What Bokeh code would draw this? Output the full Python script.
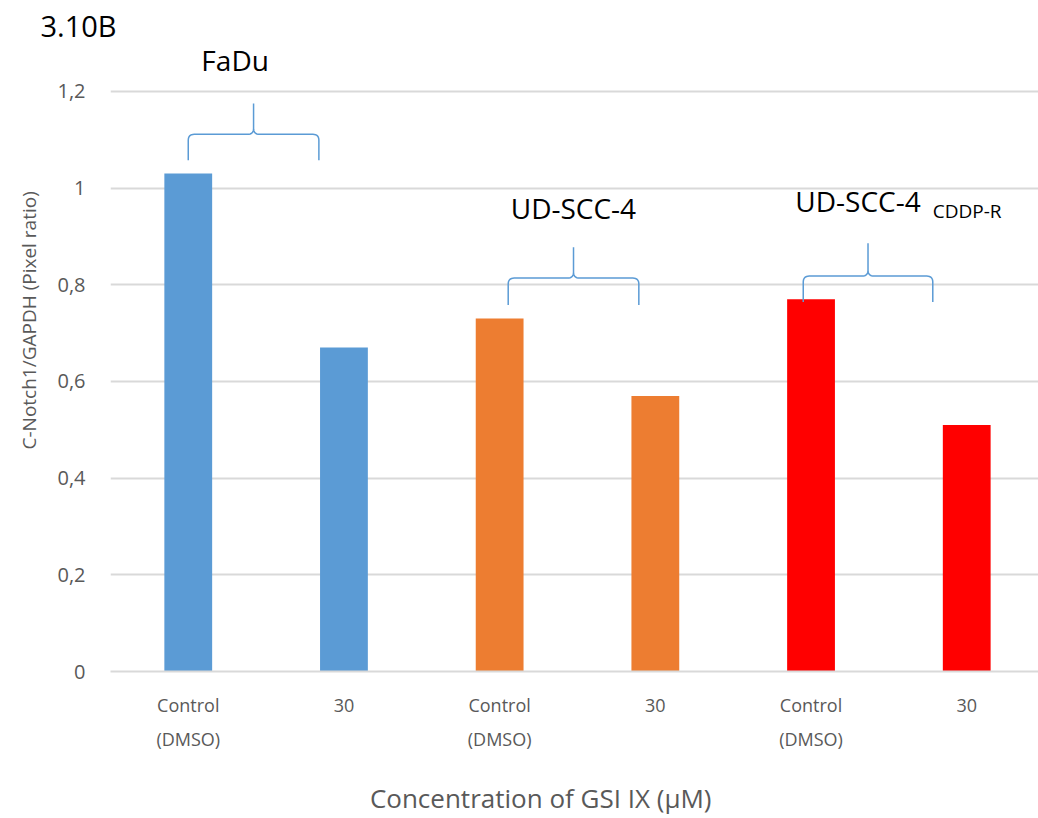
from bokeh.plotting import figure
from bokeh.models import (ColumnDataSource, Range1d, FixedTicker, CustomJSTickFormatter, Label, Title)
from bokeh.embed import file_html
from bokeh.resources import INLINE

# ---- data ----
conditions = ["Control\n(DMSO)", "30", "Control\n(DMSO)", "30", "Control\n(DMSO)", "30"]
cell_lines = ["FaDu", "FaDu", "UD-SCC-4", "UD-SCC-4", "UD-SCC-4 CDDP-R", "UD-SCC-4 CDDP-R"]
ratio = [1.03, 0.67, 0.73, 0.57, 0.77, 0.51]
bar_colors = ["#5B9BD5", "#5B9BD5", "#ED7D31", "#ED7D31", "#FF0000", "#FF0000"]
y_ticks = [0, 0.2, 0.4, 0.6, 0.8, 1.0, 1.2]

xpos = list(range(len(ratio)))
src = ColumnDataSource(dict(x=xpos, top=ratio, color=bar_colors, line=cell_lines))

GRAY = "#595959"
FONT = "Open Sans"

p = figure(width=1038, height=818, output_backend="svg", toolbar_location=None,
           x_range=Range1d(-0.4994, 5.461), y_range=Range1d(0, 1.2929),
           min_border_left=107, min_border_right=0, min_border_top=46, min_border_bottom=146)
p.outline_line_color = None
p.background_fill_color = "white"
p.border_fill_color = "white"

p.vbar(x="x", top="top", width=0.307, color="color", source=src, line_color=None)

# grid
p.xgrid.grid_line_color = None
p.ygrid.grid_line_color = "#D9D9D9"
p.ygrid.grid_line_width = 2

# y axis
p.yaxis.ticker = FixedTicker(ticks=y_ticks)
p.yaxis.formatter = CustomJSTickFormatter(code="return tick.toFixed(1).replace('.0','').replace('.', ',');")
p.yaxis.axis_line_color = None
p.yaxis.major_tick_line_color = None
p.yaxis.minor_tick_line_color = None
p.yaxis.major_tick_out = 0
p.yaxis.major_tick_in = 0
p.yaxis.major_label_standoff = 25
p.yaxis.major_label_text_font = FONT
p.yaxis.major_label_text_font_size = "20px"
p.yaxis.major_label_text_color = GRAY

# x axis
p.xaxis.ticker = FixedTicker(ticks=xpos)
p.xaxis.major_label_overrides = {i: c for i, c in zip(xpos, conditions)}
p.xaxis.axis_line_color = "#D9D9D9"
p.xaxis.axis_line_width = 2
p.xaxis.major_tick_line_color = None
p.xaxis.minor_tick_line_color = None
p.xaxis.major_tick_out = 0
p.xaxis.major_tick_in = 0
p.xaxis.major_label_standoff = 21
p.xaxis.major_label_text_font = FONT
p.xaxis.major_label_text_font_size = "18px"
p.xaxis.major_label_text_color = GRAY
p.xaxis.major_label_text_line_height = 1.43
p.xaxis.axis_label = "Concentration of GSI IX (µM)" + "\u00a0" * 10
p.xaxis.axis_label_standoff = 26
p.xaxis.axis_label_text_font = FONT
p.xaxis.axis_label_text_font_size = "26px"
p.xaxis.axis_label_text_font_style = "normal"
p.xaxis.axis_label_text_color = GRAY

# y title and panel label
p.add_layout(Title(text="C-Notch1/GAPDH (Pixel ratio)", align="left", offset=222, standoff=26,
                   text_font=FONT, text_font_size="19px", text_font_style="normal",
                   text_color=GRAY), "left")
p.add_layout(Title(text="3.10B", align="left", offset=-70, standoff=4,
                   text_font=FONT, text_font_size="29px", text_font_style="normal",
                   text_color="black"), "above")

# group labels
for gx, gy, txt in [(0.301, 1.264, "FaDu"), (2.474, 0.9594, "UD-SCC-4"), (4.302, 0.9728, "UD-SCC-4")]:
    p.add_layout(Label(x=gx, y=gy, text=txt, text_font=FONT, text_font_size="28px",
                       text_color="black", text_align="center", text_baseline="middle"))
p.add_layout(Label(x=4.782, y=0.9521, text="CDDP-R", text_font=FONT, text_font_size="19px",
                   text_color="black", text_align="left", text_baseline="middle"))

# braces
RX, RY = 0.0384, 0.0124

def qcurve(a, c, b, n=8):
    pts = []
    for i in range(n + 1):
        t = i / n
        pts.append(((1 - t) ** 2 * a[0] + 2 * (1 - t) * t * c[0] + t ** 2 * b[0],
                    (1 - t) ** 2 * a[1] + 2 * (1 - t) * t * c[1] + t ** 2 * b[1]))
    return pts

def brace(x0, x1, yb, ym, yt):
    xc = (x0 + x1) / 2
    pts = [(x0, yb)]
    pts += qcurve((x0, ym - RY), (x0, ym), (x0 + RX, ym))
    pts += qcurve((xc - RX, ym), (xc, ym), (xc, ym + RY))
    pts += [(xc, yt), (xc, ym + RY)]
    pts += qcurve((xc, ym + RY), (xc, ym), (xc + RX, ym))
    pts += qcurve((x1 - RX, ym), (x1, ym), (x1, ym - RY))
    pts += [(x1, yb)]
    return [q[0] for q in pts], [q[1] for q in pts]

for spec in [(0.0, 0.839, 1.0575, 1.1112, 1.1752),
             (2.055, 2.894, 0.758, 0.8138, 0.8778),
             (3.950, 4.782, 0.7642, 0.8179, 0.8861)]:
    bx, by = brace(*spec)
    p.line(bx, by, line_color="#5B9BD5", line_width=1.5)

open("out.html", "w").write(file_html(p, INLINE))
